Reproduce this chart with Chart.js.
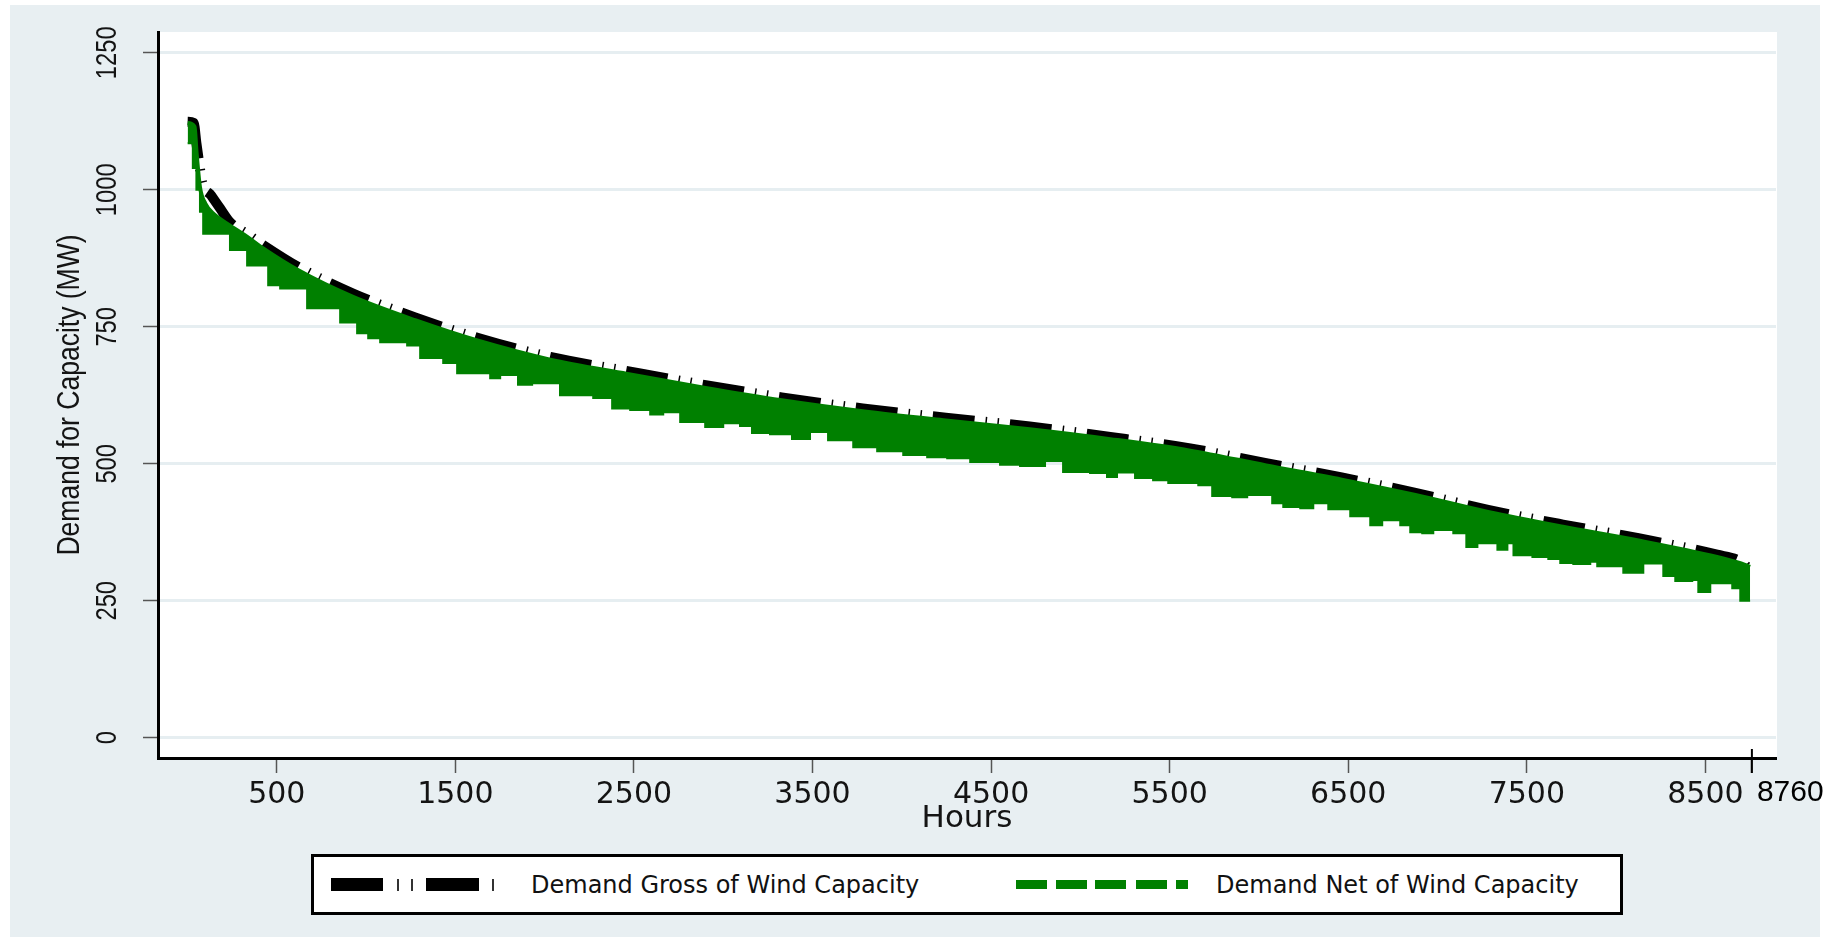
<!DOCTYPE html>
<html>
<head>
<meta charset="utf-8">
<title>Demand for Capacity - load duration</title>
<script src="https://cdn.jsdelivr.net/npm/chart.js@4.4.1/dist/chart.umd.min.js"></script>
<style>
html, body { margin: 0; padding: 0; background: #fff; }
#wrap { position: relative; width: 1843px; height: 939px; overflow: hidden; }
#chart { position: absolute; left: 0; top: 0; }
.legend-box {
    position: absolute; left: 311px; top: 854px; width: 1312px; height: 61px;
    box-sizing: border-box; border: 3px solid #000; background: #fff;
}
.swatch { position: absolute; }
.legend-text {
    position: absolute; top: 870px; height: 30px; line-height: 30px;
    font-family: "DejaVu Sans", sans-serif; font-size: 24px; color: #111; white-space: nowrap;
}
</style>
</head>
<body>
<div id="wrap">
  <canvas id="chart" width="1843" height="939"></canvas>
  <div class="legend-box"></div>
  <div id="legendItems"></div>
</div>
<script>
// ==================== DATA ====================
const seriesNames = ['Demand Gross of Wind Capacity', 'Demand Net of Wind Capacity'];

const xTicks = [500, 1500, 2500, 3500, 4500, 5500, 6500, 7500, 8500, 8760];
const yTicks = [0, 250, 500, 750, 1000, 1250];

// gross demand (black dashed line)
const grossHours = [1, 35, 50, 65, 82, 132, 183, 238, 331, 424, 621, 924, 1275, 1633, 2031, 2464,
    2893, 3327, 3781, 4246, 4716, 5167, 5615, 6040, 6463, 6876, 7283, 7702, 8125, 8565, 8700, 8760];
const grossMW = [1124, 1122, 1085, 1050, 1014, 990, 966, 941, 920, 899, 859, 811, 767, 729, 695, 669,
    644, 621, 601, 584, 568, 549, 528, 501, 475, 447, 416, 389, 364, 334, 321, 303];

// net demand, upper edge of the green band
const netTopHours = [1, 40, 50, 70, 100, 150, 200, 331, 424, 621, 924, 1275, 1633, 2031, 2464, 2893,
    3327, 3781, 4246, 4716, 5167, 5615, 6040, 6463, 6876, 7283, 7702, 8125, 8565, 8700, 8750];
const netTopMW = [1122, 1115, 1072, 1005, 975, 955, 943, 915, 893, 853, 805, 762, 724, 690, 664, 639,
    616, 596, 579, 563, 545, 524, 497, 471, 443, 412, 385, 360, 330, 318, 312];

// net demand, lower (jagged) edge of the green band
const netLowHours = [1, 30, 50, 70, 88, 238, 334, 452, 519, 670, 855, 950, 1012, 1079, 1230, 1303,
    1432, 1510, 1695, 1751, 1851, 1930, 2086, 2272, 2378, 2479, 2591, 2664, 2759, 2899, 3000, 3094,
    3161, 3262, 3385, 3486, 3587, 3728, 3862, 4008, 4142, 4254, 4383, 4550, 4662, 4802, 4903, 5054,
    5149, 5205, 5306, 5407, 5492, 5660, 5738, 5850, 5934, 6074, 6136, 6231, 6304, 6388, 6511, 6623,
    6690, 6791, 6847, 6914, 6976, 7088, 7161, 7223, 7335, 7391, 7425, 7531, 7620, 7687, 7760, 7855,
    7894, 8040, 8152, 8264, 8331, 8426, 8460, 8527, 8650, 8695, 8750];
const netLowMW = [1085, 1040, 1000, 960, 920, 890, 862, 826, 820, 784, 758, 738, 729, 722, 716, 693,
    684, 665, 656, 662, 644, 647, 625, 620, 601, 598, 590, 594, 576, 567, 574, 569,
    556, 554, 545, 558, 543, 530, 523, 516, 512, 510, 503, 498, 496, 505, 485, 483,
    476, 484, 474, 470, 465, 461, 441, 439, 443, 428, 421, 419, 428, 417, 404, 388,
    397, 388, 375, 373, 379, 373, 348, 355, 343, 355, 333, 330, 326, 319, 317, 321,
    313, 301, 318, 295, 286, 288, 266, 282, 273, 250, 250];

const toPoints = (xs, ys) => xs.map((x, i) => ({ x: x, y: ys[i] }));

// ==================== COLOURS / FONTS ====================
const GREEN = '#008000';
const PAGE_BG = '#e8eff2';
const GRID = '#e6eef1';
const TEXT = '#141414';

// ==================== PLUGINS ====================
// graph region + white plot region
const backgroundPlugin = {
    id: 'stataBackground',
    beforeDraw(chart) {
        const ctx = chart.ctx;
        const a = chart.chartArea;
        ctx.save();
        ctx.fillStyle = '#ffffff';
        ctx.fillRect(0, 0, chart.width, chart.height);
        ctx.fillStyle = PAGE_BG;
        ctx.fillRect(10, 5, 1810, 932);
        ctx.fillStyle = '#ffffff';
        ctx.fillRect(a.left, a.top, a.right - a.left + 1, a.bottom - a.top);
        ctx.restore();
    }
};

// rotated y labels, y title and the odd 8760 label
const axisTextPlugin = {
    id: 'axisText',
    afterDraw(chart) {
        const ctx = chart.ctx;
        const yScale = chart.scales.y;
        const xScale = chart.scales.x;
        ctx.save();
        ctx.fillStyle = TEXT;
        ctx.textAlign = 'center';
        ctx.textBaseline = 'middle';

        yTicks.forEach(v => {
            ctx.save();
            ctx.translate(108, yScale.getPixelForValue(v));
            ctx.rotate(-Math.PI / 2);
            ctx.scale(0.82, 1);
            ctx.font = '29px "Liberation Sans", Arial, sans-serif';
            ctx.fillText(String(v), 0, 0);
            ctx.restore();
        });

        ctx.save();
        ctx.translate(70, 395);
        ctx.rotate(-Math.PI / 2);
        ctx.scale(0.855, 1);
        ctx.font = '31px "Liberation Sans", Arial, sans-serif';
        ctx.fillText('Demand for Capacity (MW)', 0, 0);
        ctx.restore();

        // last tick crosses the axis and has its label pushed right
        const px = xScale.getPixelForValue(8760);
        ctx.strokeStyle = '#000';
        ctx.lineWidth = 2;
        ctx.beginPath();
        ctx.moveTo(px, 749);
        ctx.lineTo(px, 773);
        ctx.stroke();
        ctx.fillStyle = '#000';
        ctx.textAlign = 'left';
        ctx.font = '30px "Liberation Sans", Arial, sans-serif';
        ctx.fillText('8760', px + 5, 793);
        ctx.restore();
    }
};

// ==================== CHART ====================
const ctx = document.getElementById('chart').getContext('2d');
new Chart(ctx, {
    type: 'line',
    data: {
        datasets: [
            {
                label: seriesNames[1] + ' (upper)',
                data: toPoints(netTopHours, netTopMW),
                borderColor: GREEN,
                borderWidth: 4,
                pointRadius: 0,
                cubicInterpolationMode: 'monotone',
                fill: false,
                order: 1
            },
            {
                label: seriesNames[1],
                data: toPoints(netLowHours, netLowMW),
                borderColor: GREEN,
                borderWidth: 2,
                pointRadius: 0,
                stepped: true,
                fill: '-1',
                backgroundColor: GREEN,
                order: 2
            },
            {
                label: seriesNames[0],
                data: toPoints(grossHours, grossMW),
                borderColor: '#000',
                borderWidth: 10,
                borderDash: [42, 11, 1.5, 10.5, 1.5, 11],
                borderCapStyle: 'butt',
                pointRadius: 0,
                cubicInterpolationMode: 'monotone',
                fill: false,
                order: 3
            }
        ]
    },
    options: {
        responsive: false,
        devicePixelRatio: 1,
        animation: false,
        layout: { padding: { top: 32, right: 67, left: 0, bottom: 0 } },
        plugins: {
            legend: { display: false },
            tooltip: { enabled: false }
        },
        scales: {
            x: {
                type: 'linear',
                min: -165,
                max: 8895,
                afterBuildTicks: (scale) => { scale.ticks = xTicks.map(v => ({ value: v })); },
                afterFit: (scale) => { scale.height = 181; scale.paddingLeft = 0; scale.paddingRight = 0; },
                grid: {
                    drawOnChartArea: false,
                    tickLength: 15,
                    tickColor: '#555',
                    tickWidth: 1.5
                },
                border: { color: '#000', width: 3 },
                ticks: {
                    padding: 4,
                    color: TEXT,
                    font: { family: '"DejaVu Sans", sans-serif', size: 30 },
                    callback: (v) => (v === 8760 ? '' : String(v))
                },
                title: {
                    display: true,
                    text: 'Hours',
                    color: TEXT,
                    font: { family: '"DejaVu Sans", sans-serif', size: 31 },
                    padding: { top: 0, bottom: 101 }
                }
            },
            y: {
                type: 'linear',
                min: -37,
                max: 1288,
                afterBuildTicks: (scale) => { scale.ticks = yTicks.map(v => ({ value: v })); },
                afterFit: (scale) => { scale.width = 158; scale.paddingTop = 0; scale.paddingBottom = 0; },
                grid: {
                    color: GRID,
                    lineWidth: 3,
                    tickLength: 15,
                    tickColor: '#555',
                    tickWidth: 1.5
                },
                border: { color: '#000', width: 3 },
                ticks: { color: 'rgba(0,0,0,0)', font: { size: 10 } }
            }
        }
    },
    plugins: [backgroundPlugin, axisTextPlugin]
});

// ==================== LEGEND (html) ====================
const legendItems = document.getElementById('legendItems');
function addSwatch(left, top, width, height, color) {
    const d = document.createElement('div');
    d.className = 'swatch';
    d.style.cssText = `left:${left}px;top:${top}px;width:${width}px;height:${height}px;background:${color};`;
    legendItems.appendChild(d);
}
function addText(left, text) {
    const d = document.createElement('div');
    d.className = 'legend-text';
    d.style.left = left + 'px';
    d.textContent = text;
    legendItems.appendChild(d);
}
// black: long dash, tick, tick, long dash, tick
addSwatch(331, 878, 52, 13, '#000');
addSwatch(397, 879, 1.5, 12, '#333');
addSwatch(411, 879, 1.5, 12, '#333');
addSwatch(426, 878, 53, 13, '#000');
addSwatch(492, 879, 1.5, 12, '#333');
addText(531, seriesNames[0]);
// green: dashes
[1016, 1056, 1095, 1136].forEach(l => addSwatch(l, 880, 31, 9, GREEN));
addSwatch(1176, 880, 12, 9, GREEN);
addText(1216, seriesNames[1]);
</script>
</body>
</html>
